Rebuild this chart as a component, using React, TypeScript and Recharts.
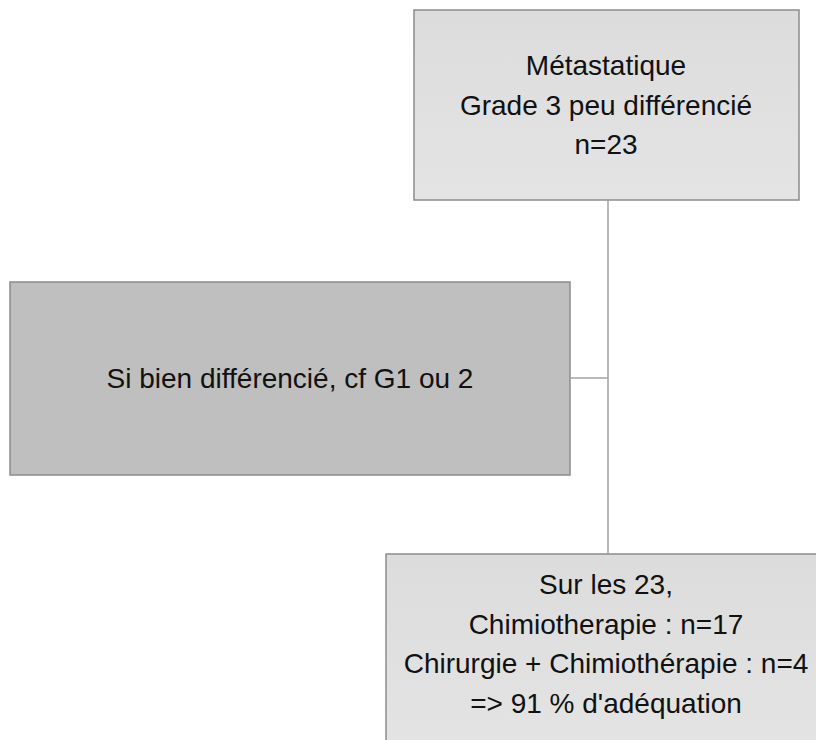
import React from "react";
import { ComposedChart, XAxis, YAxis, ReferenceArea, ReferenceLine, Scatter } from "recharts";

// flowchart nodes, in chart units (x: 0..816, y: 0..740 top-down)
const nodeIds = ["metastatique", "bienDiff", "resultat"];
const nodeX = [
  [414, 799],
  [10, 570],
  [386, 826],
];
const nodeY = [
  [10, 200],
  [282, 475],
  [554, 752],
];
const nodeLines = [
  ["Métastatique", "Grade 3 peu différencié", "n=23"],
  ["Si bien différencié, cf G1 ou 2"],
  [
    "Sur les 23,",
    "Chimiotherapie : n=17",
    "Chirurgie + Chimiothérapie : n=4",
    "=> 91 % d'adéquation",
  ],
];
// centre of each text block
const textX = [606, 290, 606];
const textY = [105, 378, 644];
const nodeFill = ["url(#boxLight)", "#bfbfbf", "url(#boxLight)"];

// connectors: [x1, y1, x2, y2]
const links = [
  [608, 200, 608, 554],
  [570, 378, 608, 378],
];

const FONT = "'Liberation Sans', Arial, Helvetica, sans-serif";
const LINE_H = 39.5;

const textData = nodeIds.map((id, i) => ({
  id,
  x: textX[i],
  y: textY[i],
  lines: nodeLines[i],
}));

function BoxText(props: any) {
  const { cx, cy, payload } = props;
  if (cx == null || cy == null || !payload) return null;
  const lines: string[] = payload.lines;
  const startY = cy - ((lines.length - 1) * LINE_H) / 2;
  return (
    <text textAnchor="middle" fontFamily={FONT} fontSize={28} fill="#111">
      {lines.map((l, i) => (
        <tspan key={i} x={cx} y={startY + i * LINE_H} dominantBaseline="central">
          {l}
        </tspan>
      ))}
    </text>
  );
}

export default function App() {
  return (
    <div style={{ position: "absolute", left: 0, top: 0, background: "#fff" }}>
      <ComposedChart
        width={816}
        height={740}
        margin={{ top: 0, right: 0, bottom: 0, left: 0 }}
      >
        <defs>
          <linearGradient id="boxLight" x1="0" y1="0" x2="0" y2="1">
            <stop offset="0%" stopColor="#dcdcdc" />
            <stop offset="100%" stopColor="#e4e4e4" />
          </linearGradient>
        </defs>
        <XAxis type="number" dataKey="x" domain={[0, 816]} hide allowDataOverflow />
        <YAxis type="number" dataKey="y" domain={[0, 740]} reversed hide allowDataOverflow />
        {links.map((l, i) => (
          <ReferenceLine
            key={"l" + i}
            segment={[
              { x: l[0], y: l[1] },
              { x: l[2], y: l[3] },
            ]}
            stroke="#a3a3a3"
            strokeWidth={1.5}
            ifOverflow="visible"
          />
        ))}
        {nodeIds.map((id, i) => (
          <ReferenceArea
            key={id}
            x1={nodeX[i][0]}
            x2={nodeX[i][1]}
            y1={nodeY[i][0]}
            y2={nodeY[i][1]}
            fill={nodeFill[i]}
            fillOpacity={1}
            stroke="#8c8c8c"
            strokeWidth={1.5}
            ifOverflow="visible"
          />
        ))}
        <Scatter
          data={textData}
          dataKey="y"
          shape={BoxText}
          isAnimationActive={false}
        />
      </ComposedChart>
    </div>
  );
}
